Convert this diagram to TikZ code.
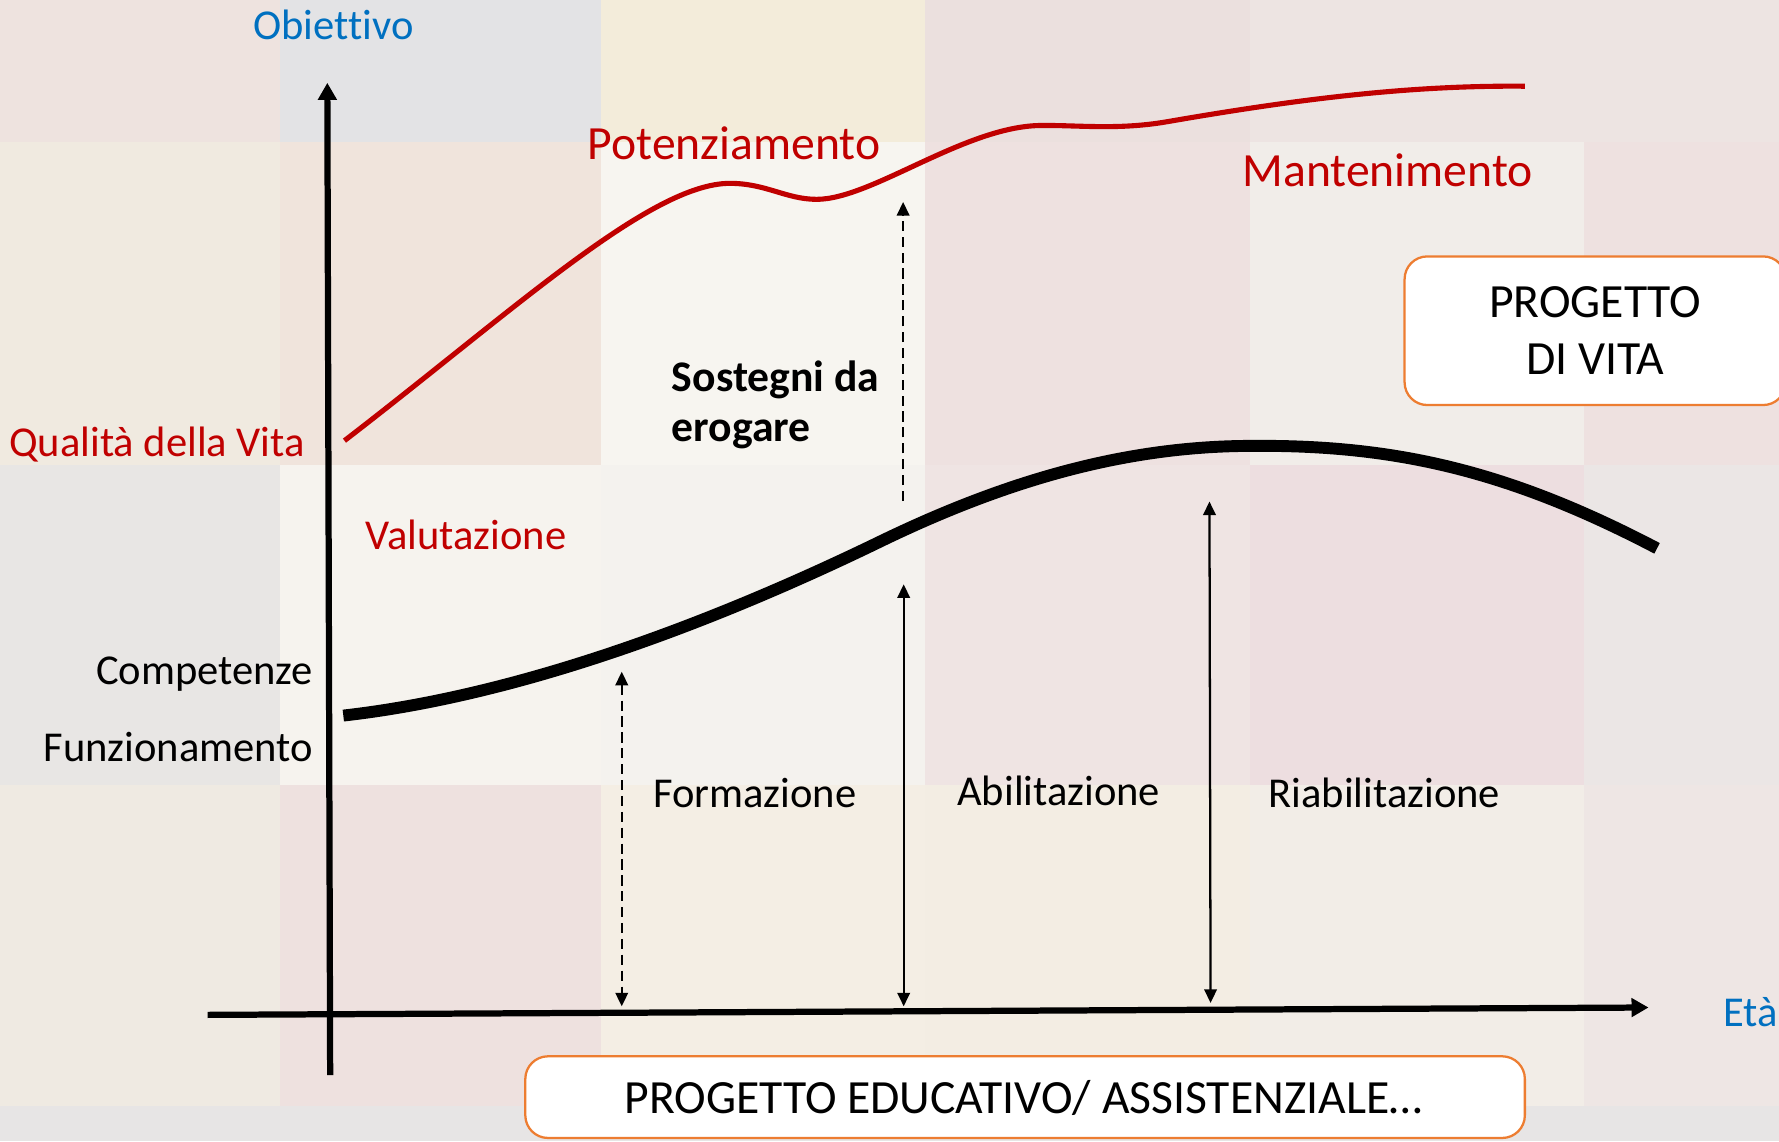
\documentclass[tikz,border=0pt]{standalone}
\usepackage{fontspec}
\setmainfont[Ligatures=NoCommon]{Carlito}
\usetikzlibrary{arrows.meta}
\definecolor{qred}{RGB}{192,0,0}
\definecolor{qblue}{RGB}{0,112,192}
\definecolor{qorange}{RGB}{237,125,49}
\begin{document}
\begin{tikzpicture}[x=1pt,y=-1pt,
  lbl/.style={font=\fontsize{37.5}{45}\selectfont, inner sep=0pt},
  redlbl/.style={lbl, text=qred},
  bigred/.style={font=\fontsize{42}{50}\selectfont, inner sep=0pt, text=qred},
  bluelbl/.style={lbl, text=qblue},
  boldlbl/.style={font=\fontsize{38.5}{45}\selectfont\bfseries, inner sep=0pt},
  boxtxt/.style={font=\fontsize{42}{50}\selectfont, inner sep=0pt},
  obox/.style={draw=qorange, line width=2pt, fill=white, rounded corners=20pt, inner sep=0pt},
  axis/.style={line width=5.5pt, -{Triangle[length=15pt,width=16pt]}},
  dblarrow/.style={line width=2pt, {Triangle[length=12pt,width=11pt]}-{Triangle[length=12pt,width=11pt]}},
  uparrow/.style={line width=2pt, -{Triangle[length=12pt,width=11pt]}},
  dashline/.style={dash pattern=on 9pt off 5pt},
]
\clip (0,0) rectangle (1568,1006);
% background tiles
\def\tile#1#2#3#4#5{\fill[fill={rgb,255:#5}] (#1,#2) rectangle (#3,#4);}
\tile{0}{0}{247}{125}{red,238;green,227;blue,223}
\tile{247}{0}{530}{125}{red,227;green,227;blue,229}
\tile{530}{0}{815}{125}{red,243;green,236;blue,218}
\tile{815}{0}{1102}{125}{red,235;green,224;blue,222}
\tile{1102}{0}{1396}{125}{red,237;green,228;blue,226}
\tile{1396}{0}{1568}{125}{red,237;green,228;blue,226}
\tile{0}{125}{247}{410}{red,240;green,234;blue,224}
\tile{247}{125}{530}{410}{red,240;green,228;blue,220}
\tile{530}{125}{815}{410}{red,247;green,245;blue,240}
\tile{815}{125}{1102}{410}{red,238;green,225;blue,224}
\tile{1102}{125}{1396}{410}{red,241;green,237;blue,233}
\tile{1396}{125}{1568}{410}{red,238;green,225;blue,224}
\tile{0}{410}{247}{692}{red,232;green,230;blue,228}
\tile{247}{410}{530}{692}{red,246;green,243;blue,238}
\tile{530}{410}{815}{692}{red,244;green,242;blue,238}
\tile{815}{410}{1102}{692}{red,239;green,228;blue,227}
\tile{1102}{410}{1396}{692}{red,237;green,222;blue,224}
\tile{1396}{410}{1568}{692}{red,235;green,230;blue,229}
\tile{0}{692}{247}{975}{red,239;green,234;blue,226}
\tile{247}{692}{530}{975}{red,238;green,225;blue,223}
\tile{530}{692}{815}{975}{red,244;green,238;blue,228}
\tile{815}{692}{1102}{975}{red,243;green,237;blue,227}
\tile{1102}{692}{1396}{975}{red,242;green,237;blue,231}
\tile{1396}{692}{1568}{975}{red,238;green,230;blue,228}
\tile{0}{975}{1568}{1006}{red,231;green,229;blue,229}

% coordinates
\coordinate (xS) at (183,894.5);
\coordinate (xE) at (1453,888);
\coordinate (yS) at (291,947.5);
\coordinate (yE) at (288.5,73);
\coordinate (fTop) at (548,592);
\coordinate (fBot) at (548,887);
\coordinate (aTop) at (796.5,515);
\coordinate (aBot) at (796.5,887);
\coordinate (rTop) at (1066,442);
\coordinate (rBot) at (1067,884);
\coordinate (sBot) at (796,441.6);
\coordinate (sTop) at (796,178);

% boxes
\node[obox, minimum width=336pt, minimum height=131pt] (pvbox) at (1406,291.5) {};
\node[obox, minimum width=881pt, minimum height=72pt] (pebox) at (903.5,967) {};
\node[boxtxt, anchor=base] (pv1) at (1406,279.5) {PROGETTO};
\node[boxtxt, anchor=base] (pv2) at (1406,330) {DI VITA};
\node[boxtxt, anchor=base] (pe) at (902,981.6) {PROGETTO EDUCATIVO/ ASSISTENZIALE…};

% red curve
\draw[qred, line width=4.5pt]
 (303.6,388.4) .. controls (453.6,272.9) and (573.4,161.6) .. (643.4,161.6)
 .. controls (675,161.6) and (693,175.7) .. (719.8,175.7)
 .. controls (768,175.7) and (850,111.5) .. (917,110.6)
 .. controls (950,110.2) and (985,114.7) .. (1028,107.4)
 .. controls (1140,88) and (1240,75) .. (1344,76);

% black curve
\draw[black, line width=10.5pt]
 (302.6,630.7) .. controls (450,614) and (615.6,555) .. (775.6,477.4)
 .. controls (895.6,419.2) and (1000,393) .. (1104,393)
 .. controls (1230,392) and (1330,415) .. (1460.5,483.3);

% axes
\draw[axis] (xS) -- (xE);
\draw[axis] (yS) -- (yE);

% arrows
\draw[dblarrow, dashline] (fTop) -- (fBot);
\draw[dblarrow] (aTop) -- (aBot);
\draw[dblarrow] (rTop) -- (rBot);
\draw[uparrow, dashline] (sBot) -- (sTop);

% labels
\node[bluelbl, anchor=base] (obj) at (294,35) {Obiettivo};
\node[bluelbl, anchor=base west] (eta) at (1518.6,905) {Età};
\node[bigred, anchor=base west] (pot) at (518,141) {Potenziamento};
\node[bigred, anchor=base west] (man) at (1095,164) {Mantenimento};
\node[redlbl, anchor=base west] (qdv) at (8,402) {Qualità della Vita};
\node[redlbl, anchor=base west] (val) at (322,484) {Valutazione};
\node[boldlbl, anchor=base west] (sos1) at (592,345) {Sostegni da};
\node[boldlbl, anchor=base west] (sos2) at (592,389.5) {erogare};
\node[lbl, anchor=base east] (comp) at (276,603) {Competenze};
\node[lbl, anchor=base east] (funz) at (276,671.5) {Funzionamento};
\node[lbl, anchor=base west] (form) at (575.5,712) {Formazione};
\node[lbl, anchor=base west] (abil) at (843.6,709.6) {Abilitazione};
\node[lbl, anchor=base west] (riab) at (1118,711.6) {Riabilitazione};
\end{tikzpicture}
\end{document}
